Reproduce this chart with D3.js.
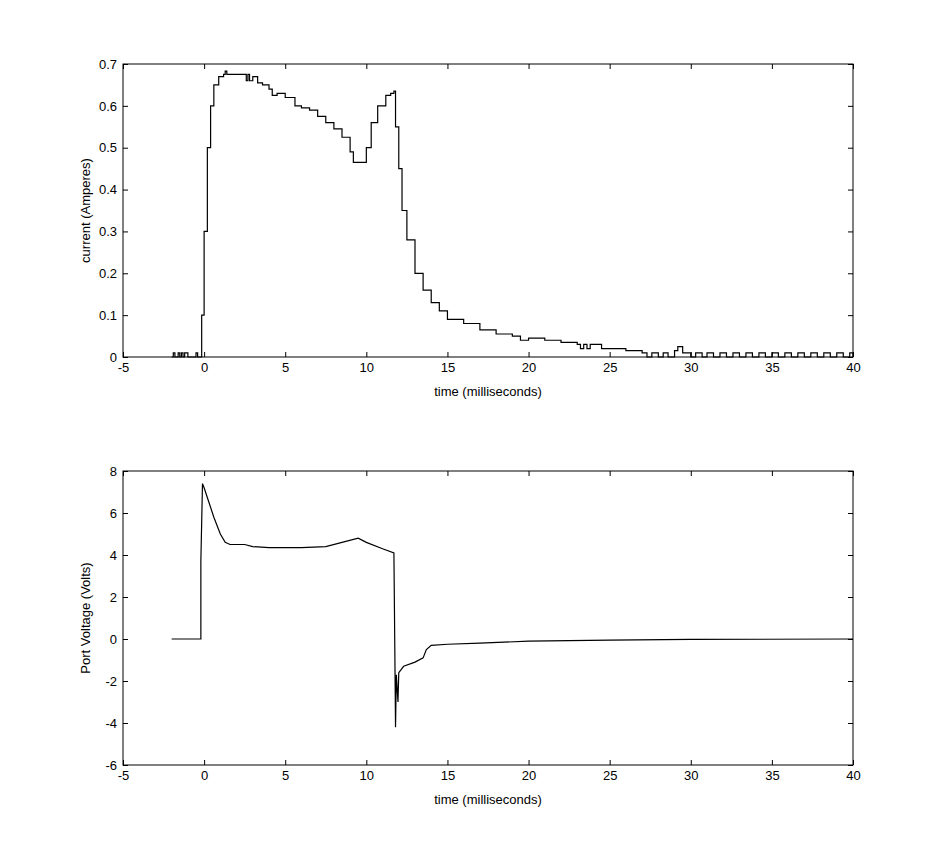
<!DOCTYPE html><html><head><meta charset="utf-8"><script src="https://cdn.jsdelivr.net/npm/d3@7"></script>
<style>body{margin:0;background:#fff}text{font-family:"Liberation Sans",Arial,sans-serif;font-size:12px;fill:#000}</style></head><body>
<svg width="943" height="859"></svg>
<script>
const xTicks=[-5,0,5,10,15,20,25,30,35,40];
const currentTicks=[0,0.1,0.2,0.3,0.4,0.5,0.6,0.7];
const voltageTicks=[-6,-4,-2,0,2,4,6,8];
const currentT=[-2,-1.9,-1.8,-1.7,-1.6,-1.5,-1.4,-1.3,-1.2,-1.1,-1.0,-0.6,-0.5,-0.4,-0.3,-0.15,0,0.2,0.4,0.6,0.9,1.2,1.3,1.4,2.5,2.6,2.7,2.8,3.0,3.3,3.6,4.0,4.2,4.5,5.0,5.5,5.6,6,6.5,7,7.5,8,8.5,9,9.2,9.7,10,10.3,10.7,11.2,11.5,11.7,11.8,12.0,12.2,12.5,13,13.5,14,14.5,15,16,17,18,19,19.5,20,21,22,23,23.2,23.4,23.6,23.8,24,24.5,25,26,26.5,27,27.3,27.6,28,28.3,28.6,29,29.2,29.5,30,30.3,30.7,31,31.4,31.8,32.2,32.6,33,33.4,33.8,34.2,34.6,35,35.4,35.8,36.2,36.6,37,37.4,37.8,38.2,38.6,39,39.4,39.8,40];
const currentV=[0,0.01,0,0,0.01,0,0.01,0,0.01,0.01,0,0,0.01,0,0,0.1,0.3,0.5,0.6,0.65,0.67,0.675,0.683,0.675,0.675,0.66,0.675,0.66,0.67,0.655,0.65,0.64,0.625,0.63,0.62,0.62,0.6,0.595,0.59,0.575,0.56,0.545,0.525,0.49,0.465,0.465,0.5,0.56,0.6,0.625,0.63,0.635,0.55,0.45,0.35,0.28,0.2,0.16,0.13,0.11,0.09,0.08,0.065,0.055,0.05,0.04,0.045,0.04,0.035,0.03,0.02,0.03,0.02,0.03,0.03,0.02,0.02,0.015,0.015,0.01,0,0.01,0,0.01,0,0.015,0.025,0.01,0,0.01,0,0.01,0,0.01,0,0.01,0,0.01,0,0.01,0,0.01,0,0.01,0,0.01,0,0.01,0,0.01,0,0.01,0,0.01,0];
const voltageT=[-2,-0.2,-0.2,-0.1,0,0.3,0.6,1.0,1.3,1.6,2.5,3,4,6,7.5,8.5,9.5,10,11,11.7,11.75,11.8,11.85,11.95,12.0,12.3,13,13.5,13.7,14,15,17,20,25,30,40];
const voltageV=[0,0,3.7,7.4,7.2,6.5,5.8,5.0,4.6,4.5,4.5,4.4,4.35,4.35,4.4,4.6,4.8,4.6,4.3,4.1,0,-4.2,-1.7,-3,-1.6,-1.3,-1.1,-0.9,-0.5,-0.3,-0.25,-0.2,-0.1,-0.05,-0.02,0];
const svg=d3.select("svg");
const fmt=d=>String(d);
function panel(top,bottom,yDom,yTicks,T,V,yLabel,curve){
  const x=d3.scaleLinear().domain([-5,40]).range([123,853]);
  const y=d3.scaleLinear().domain(yDom).range([bottom,top]);
  const g=svg.append("g");
  const ax=(a,tr)=>{const s=g.append("g").attr("transform",tr).call(a);s.select(".domain").remove();s.selectAll("line").attr("stroke","#000");return s;};
  ax(d3.axisBottom(x).tickValues(xTicks).tickSize(-5).tickPadding(6).tickFormat(fmt),`translate(0,${bottom})`).selectAll("text").attr("dy","0.71em").style("font-size","13px");
  ax(d3.axisTop(x).tickValues(xTicks).tickSize(-5).tickFormat(""),`translate(0,${top})`);
  ax(d3.axisLeft(y).tickValues(yTicks).tickSize(-5).tickPadding(6).tickFormat(fmt),`translate(123,0)`).selectAll("text").style("font-size","13px");
  ax(d3.axisRight(y).tickValues(yTicks).tickSize(-5).tickFormat(""),`translate(853,0)`);
  g.append("rect").attr("x",123).attr("y",top).attr("width",730).attr("height",bottom-top).attr("fill","none").attr("stroke","#000");
  g.append("path").datum(T.map((t,i)=>[t,V[i]])).attr("fill","none").attr("stroke","#000").attr("stroke-width",1.2)
   .attr("d",d3.line().curve(curve).x(d=>x(d[0])).y(d=>y(d[1])));
  g.append("text").attr("x",488).attr("y",bottom+39).attr("text-anchor","middle").text("time (milliseconds)").style("font-size","13px");
  g.append("text").attr("transform",`translate(90,${(top+bottom)/2}) rotate(-90)`).attr("text-anchor","middle").text(yLabel).style("font-size","13px");
}
panel(64,357,[0,0.7],currentTicks,currentT,currentV,"current (Amperes)",d3.curveStepAfter);
panel(471,765,[-6,8],voltageTicks,voltageT,voltageV,"Port Voltage (Volts)",d3.curveLinear);
</script></body></html>
